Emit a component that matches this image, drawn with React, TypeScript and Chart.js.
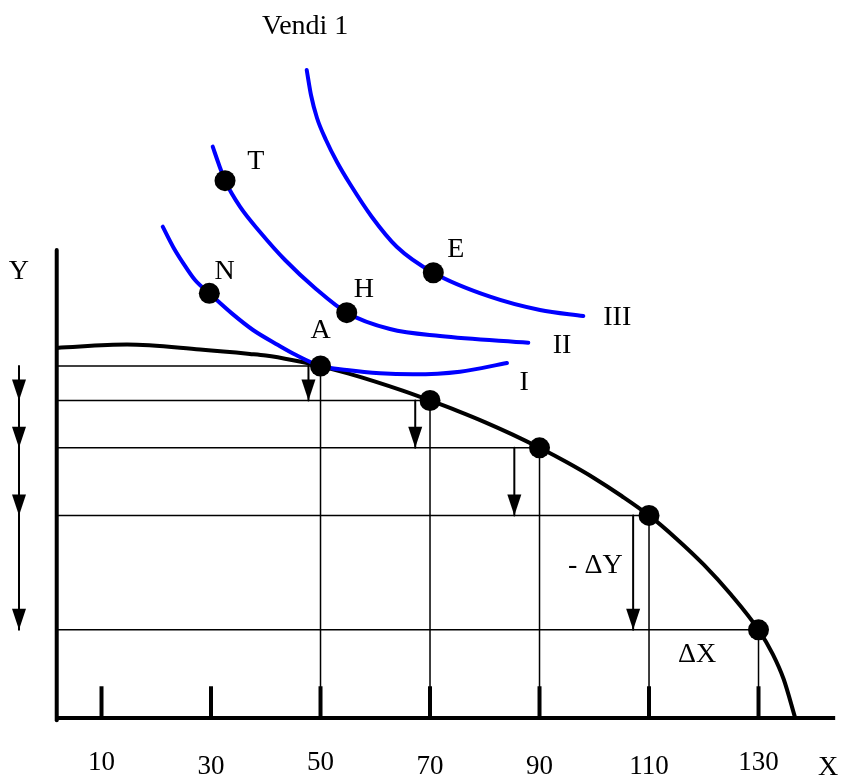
import React, { useEffect, useRef } from "react";
import { Chart, registerables } from "chart.js";

Chart.register(...registerables);

// Axis ranges (data units)
const X_MIN = -8.54;
const X_MAX = 145.43;
const Y_MIN = -11.32;
const Y_MAX = 131.14;

// Axes of the diagram
const axisX = 1.82;
const axisXEnd = 144.0;
const axisYTop = 85.5;

// X ticks
const tickValues = [10, 30, 50, 70, 90, 110, 130];
const tickLabels = ["10", "30", "50", "70", "90", "110", "130"];
const tickLabelY = [-8.2, -9.0, -8.2, -9.0, -9.0, -9.0, -8.2];
const tickHeight = 5.8;

// Production possibility frontier
const ppfX = [1.82, 14.66, 28, 37.1, 40, 45, 50, 55, 60, 65, 70, 75, 80, 85, 90, 95, 100, 105, 110, 115, 120, 125, 130, 132.6, 134.6, 136.7];
const ppfY = [67.6, 68.2, 67.3, 66.5, 66.2, 65.35, 64.3, 62.95, 61.45, 59.8, 58.0, 56.1, 54.05, 51.8, 49.35, 46.7, 43.8, 40.55, 37.0, 32.75, 28.0, 22.5, 16.1, 11.68, 7.08, 0];

// Points on the frontier
const pointX = [50, 70, 90, 110, 130];
const pointY = [64.3, 58.0, 49.35, 37.0, 16.1];

// Indifference curves
const ic1X = [21.18, 23.11, 24.94, 27.08, 29.69, 33.8, 37.67, 42.24, 45.53, 50, 54.79, 60.87, 66.89, 75.48, 84.06];
const ic1Y = [89.74, 86.0, 83.05, 79.99, 77.57, 73.9, 70.87, 68.13, 66.3, 64.3, 63.56, 62.96, 62.78, 63.25, 64.84];
const ic2X = [30.31, 31.41, 32.56, 35.29, 38.95, 43.52, 49.18, 54.79, 62.69, 71.83, 87.95];
const ic2Y = [104.35, 101.19, 98.14, 93.39, 88.77, 83.65, 78.36, 74.03, 71.05, 69.77, 68.55];
const ic3X = [47.48, 48.26, 49.36, 51.0, 53.01, 55.39, 59.35, 63.92, 70.6, 80.96, 90.09, 98.0];
const ic3Y = [118.36, 113.79, 109.59, 105.57, 101.55, 97.53, 91.56, 86.08, 81.33, 76.95, 74.52, 73.42];

// Named points on indifference curves: T, N, H, E
const extraPointX = [32.56, 29.69, 54.79, 70.6];
const extraPointY = [98.14, 77.57, 74.03, 81.33];

// Arrows
const innerArrowX = [47.8, 67.3, 85.4, 107.1];
const leftArrowX = -5.07;

// Text labels
const labelText = ["Vendi 1", "T", "N", "H", "E", "A", "I", "II", "III", "- ΔY", "ΔX", "Y", "X"];
const labelX = [47.2, 38.2, 32.5, 57.9, 74.7, 50.0, 87.2, 94.1, 104.2, 100.2, 118.8, -5.1, 142.7];
const labelY = [126.2, 101.6, 81.5, 78.2, 85.5, 70.7, 61.2, 68.1, 73.2, 27.9, 11.5, 81.5, -9.0];

const BLUE = "#0000ff";
const BLACK = "#000000";

function line(xs: number[], ys: number[], color: string, width: number, order: number, smooth = false, cap: CanvasLineCap = "butt") {
  return {
    type: "line" as const,
    data: xs.map((x, i) => ({ x, y: ys[i] })),
    borderColor: color,
    borderWidth: width,
    pointRadius: 0,
    pointHoverRadius: 0,
    fill: false,
    cubicInterpolationMode: smooth ? ("monotone" as const) : ("default" as const),
    tension: 0,
    borderCapStyle: cap,
    borderJoinStyle: "round" as const,
    order,
  };
}

export default function App() {
  const ref = useRef<HTMLCanvasElement | null>(null);

  useEffect(() => {
    if (!ref.current) return;
    const datasets: any[] = [];

    // thin guide lines
    pointX.forEach((px, i) => {
      datasets.push(line([axisX, px], [pointY[i], pointY[i]], BLACK, 1.5, 5));
      datasets.push(line([px, px], [pointY[i], 0], BLACK, 1.5, 5));
    });
    // arrow stems
    innerArrowX.forEach((ax, i) => {
      datasets.push(line([ax, ax], [pointY[i], pointY[i + 1]], BLACK, 2, 5));
    });
    datasets.push(line([leftArrowX, leftArrowX], [pointY[0], pointY[pointY.length - 1]], BLACK, 2, 5));

    // ticks
    tickValues.forEach((t) => {
      datasets.push(line([t, t], [0, tickHeight], BLACK, 4, 4));
    });
    // axes
    datasets.push(line([axisX, axisX], [-0.4, axisYTop], BLACK, 4, 4, false, "round"));
    datasets.push(line([axisX, axisXEnd], [0, 0], BLACK, 4, 4));

    // curves
    datasets.push(line(ppfX, ppfY, BLACK, 4, 3, true));
    datasets.push(line(ic1X, ic1Y, BLUE, 4, 2, true, "round"));
    datasets.push(line(ic2X, ic2Y, BLUE, 4, 2, true, "round"));
    datasets.push(line(ic3X, ic3Y, BLUE, 4, 2, true, "round"));

    // markers
    datasets.push({
      type: "scatter" as const,
      data: [...pointX.map((x, i) => ({ x, y: pointY[i] })), ...extraPointX.map((x, i) => ({ x, y: extraPointY[i] }))],
      backgroundColor: BLACK,
      borderWidth: 0,
      pointRadius: 10.5,
      pointHoverRadius: 10.5,
      showLine: false,
      order: 0,
    });

    const overlay = {
      id: "overlay",
      afterDatasetsDraw(chart: any) {
        const ctx = chart.ctx as CanvasRenderingContext2D;
        const xs = chart.scales.x;
        const ys = chart.scales.y;
        ctx.save();
        // arrow heads
        const head = (x: number, y: number) => {
          const px = xs.getPixelForValue(x);
          const py = ys.getPixelForValue(y);
          ctx.beginPath();
          ctx.moveTo(px, py);
          ctx.lineTo(px - 7, py - 21);
          ctx.lineTo(px + 7, py - 21);
          ctx.closePath();
          ctx.fillStyle = BLACK;
          ctx.fill();
        };
        innerArrowX.forEach((ax, i) => head(ax, pointY[i + 1]));
        for (let i = 1; i < pointY.length; i++) head(leftArrowX, pointY[i]);

        // texts
        ctx.fillStyle = BLACK;
        ctx.textAlign = "center";
        ctx.textBaseline = "middle";
        ctx.font = '28px "Liberation Serif", serif';
        labelText.forEach((t, i) => {
          ctx.fillText(t, xs.getPixelForValue(labelX[i]), ys.getPixelForValue(labelY[i]));
        });
        ctx.font = '27px "Liberation Serif", serif';
        tickLabels.forEach((t, i) => {
          ctx.fillText(t, xs.getPixelForValue(tickValues[i]), ys.getPixelForValue(tickLabelY[i]));
        });
        ctx.restore();
      },
    };

    const chart = new Chart(ref.current, {
      type: "line",
      data: { datasets },
      options: {
        responsive: false,
        animation: false,
        events: [],
        layout: { padding: 0, autoPadding: false },
        plugins: { legend: { display: false }, tooltip: { enabled: false } },
        scales: {
          x: { type: "linear", min: X_MIN, max: X_MAX, display: false },
          y: { type: "linear", min: Y_MIN, max: Y_MAX, display: false },
        },
      },
      plugins: [overlay],
    });
    return () => chart.destroy();
  }, []);

  return (
    <canvas
      ref={ref}
      width={843}
      height={780}
      style={{ position: "absolute", left: 0, top: 0, width: 843, height: 780, background: "#ffffff" }}
    />
  );
}
